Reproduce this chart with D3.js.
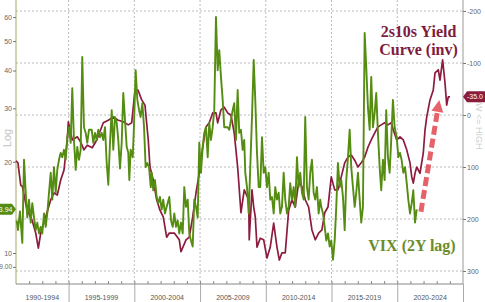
<!DOCTYPE html>
<html>
<head>
<meta charset="utf-8">
<script src="https://cdn.jsdelivr.net/npm/d3@7"></script>
<style>
  body { margin: 0; background: #fff; }
  svg { display: block; font-family: "Liberation Sans", Arial, sans-serif; }
</style>
</head>
<body>
<svg id="chart" width="485" height="302"></svg>
<script>
// bottom axis bands
const periodLabels = ["1990-1994", "1995-1999", "2000-2004", "2005-2009", "2010-2014", "2015-2019", "2020-2024"];
const periodStarts = [1990, 1995, 2000, 2005, 2010, 2015, 2020];
const leftTicks = [9, 10, 20, 30, 40, 50, 60, 70];
const rightTicks = [-200, -100, 0, 100, 200, 300];

// VIX, shifted 2 years (left axis, log)
const vixDates = [
  1991.05, 1991.15, 1991.30, 1991.48, 1991.61, 1991.74, 1991.86, 1991.99, 1992.12, 1992.24,
  1992.37, 1992.50, 1992.62, 1992.75, 1992.88, 1993.00, 1993.13, 1993.26, 1993.38, 1993.51,
  1993.64, 1993.76, 1993.89, 1994.02, 1994.14, 1994.27, 1994.40, 1994.52, 1994.65, 1994.78,
  1994.90, 1995.03, 1995.16, 1995.28, 1995.41, 1995.54, 1995.66, 1995.79, 1995.92, 1996.04,
  1996.17, 1996.30, 1996.42, 1996.55, 1996.76, 1996.88, 1997.01, 1997.14, 1997.26, 1997.39,
  1997.52, 1997.64, 1997.77, 1997.90, 1998.02, 1998.15, 1998.28, 1998.40, 1998.53, 1998.66,
  1998.78, 1998.91, 1999.04, 1999.16, 1999.29, 1999.42, 1999.54, 1999.62, 1999.72, 1999.88,
  1999.97, 2000.10, 2000.23, 2000.36, 2000.48, 2000.61, 2000.74, 2000.86, 2000.99, 2001.12,
  2001.25, 2001.32, 2001.44, 2001.57, 2001.70, 2001.82, 2001.95, 2002.08, 2002.20, 2002.33,
  2002.46, 2002.66, 2002.79, 2002.92, 2003.04, 2003.17, 2003.30, 2003.42, 2003.55, 2003.68,
  2003.80, 2003.93, 2004.06, 2004.18, 2004.31, 2004.44, 2004.56, 2004.69, 2004.82, 2004.94,
  2005.07, 2005.20, 2005.32, 2005.45, 2005.58, 2005.70, 2005.83, 2005.96, 2006.08, 2006.21,
  2006.34, 2006.46, 2006.59, 2006.72, 2006.84, 2006.97, 2007.10, 2007.22, 2007.35, 2007.48,
  2007.60, 2007.73, 2007.86, 2007.98, 2008.11, 2008.24, 2008.36, 2008.44, 2008.57, 2008.70,
  2008.82, 2008.95, 2009.08, 2009.20, 2009.33, 2009.46, 2009.58, 2009.71, 2009.84, 2009.96,
  2010.09, 2010.22, 2010.34, 2010.47, 2010.60, 2010.72, 2010.85, 2010.98, 2011.10, 2011.23,
  2011.36, 2011.48, 2011.61, 2011.74, 2011.86, 2011.99, 2012.12, 2012.24, 2012.37, 2012.50,
  2012.62, 2012.75, 2012.88, 2013.00, 2013.13, 2013.26, 2013.38, 2013.51, 2013.64, 2013.76,
  2013.89, 2014.02, 2014.14, 2014.22, 2014.35, 2014.48, 2014.60, 2014.73, 2014.86, 2014.98,
  2015.11, 2015.24, 2015.36, 2015.49, 2015.62, 2015.74, 2015.87, 2016.00, 2016.12, 2016.25,
  2016.38, 2016.50, 2016.63, 2016.76, 2016.88, 2017.01, 2017.14, 2017.26, 2017.39, 2017.52,
  2017.64, 2017.77, 2017.90, 2018.02, 2018.15, 2018.28, 2018.40, 2018.53, 2018.66, 2018.78,
  2018.91, 2019.04, 2019.16, 2019.29, 2019.42, 2019.54, 2019.67, 2019.80, 2019.96, 2020.08,
  2020.21, 2020.33, 2020.46, 2020.59, 2020.72, 2020.84, 2020.97, 2021.10, 2021.22, 2021.35,
  2021.48
];
const vixLevels = [
  12.8, 11.9, 13.7, 10.8, 20.3, 15.8, 13.1, 15.0, 12.6, 14.6,
  13.1, 11.9, 12.6, 11.6, 12.2, 11.6, 13.5, 12.2, 13.5, 15.8,
  18.4, 15.0, 19.2, 15.8, 18.8, 20.3, 21.4, 20.7, 21.9, 20.3,
  24.1, 26.0, 23.1, 35.0, 23.6, 18.8, 22.4, 20.3, 21.9, 44.3,
  26.0, 24.9, 23.1, 25.5, 25.5, 23.1, 24.9, 23.6, 25.5, 24.1,
  24.9, 23.6, 26.0, 19.8, 16.8, 23.1, 29.6, 21.9, 28.1, 26.9,
  23.6, 19.0, 23.1, 33.7, 27.5, 22.4, 21.4, 17.4, 21.9, 20.7,
  26.0, 40.1, 32.0, 29.6, 28.1, 31.2, 26.0, 19.2, 19.8, 19.2,
  16.5, 18.4, 16.1, 17.4, 15.3, 14.6, 15.3, 13.9, 15.0, 13.5,
  14.2, 15.3, 12.8, 12.2, 13.5, 12.2, 12.8, 11.6, 12.6, 11.6,
  16.5, 14.2, 15.0, 11.6, 11.0, 10.5, 15.0, 14.2, 13.1, 23.1,
  18.4, 22.4, 24.9, 26.0, 20.7, 26.9, 23.6, 26.0, 29.6, 60.1,
  40.1, 46.7, 38.1, 32.0, 26.0, 26.0, 26.0, 25.5, 27.5, 29.6,
  31.2, 23.6, 34.5, 24.9, 25.5, 21.9, 23.6, 18.4, 16.5, 13.5,
  19.2, 28.1, 43.3, 32.0, 21.4, 16.5, 16.5, 24.1, 18.4, 19.2,
  16.5, 18.4, 15.0, 15.3, 13.5, 16.5, 15.0, 15.8, 13.5, 14.2,
  18.4, 15.0, 13.5, 14.2, 17.0, 15.0, 16.5, 14.2, 20.7, 16.5,
  18.4, 15.8, 15.0, 28.1, 16.5, 15.0, 18.4, 20.3, 15.8, 15.0,
  16.5, 13.5, 15.0, 14.2, 13.5, 12.2, 11.0, 11.6, 10.5, 11.0,
  9.5, 11.0, 14.2, 19.8, 16.5, 17.4, 15.3, 11.9, 17.4, 20.7,
  25.5, 19.2, 16.5, 14.2, 15.8, 18.4, 15.0, 12.6, 14.2, 53.2,
  41.1, 30.3, 25.5, 38.1, 26.0, 29.0, 33.7, 24.9, 19.2, 16.1,
  20.3, 17.4, 29.6, 20.7, 18.4, 23.6, 32.0, 26.0, 24.1, 20.7,
  21.4, 20.3, 18.4, 19.2, 17.0, 15.0, 13.5, 14.6, 16.1, 12.6,
  13.94
];

// 2s10s yield curve in bp (right axis, inverted)
const curveDates = [
  1991.00, 1991.15, 1991.36, 1991.48, 1991.84, 1992.22, 1992.50, 1992.70, 1992.88, 1993.26,
  1993.64, 1993.89, 1994.14, 1994.40, 1994.65, 1994.90, 1994.98, 1995.28, 1995.66, 1995.92,
  1996.17, 1996.42, 1996.80, 1997.14, 1997.64, 1998.02, 1998.40, 1998.78, 1999.16, 1999.54,
  1999.80, 2000.05, 2000.28, 2000.56, 2000.81, 2001.06, 2001.19, 2001.44, 2001.70, 2001.95,
  2002.20, 2002.46, 2002.66, 2003.04, 2003.42, 2003.55, 2003.93, 2004.18, 2004.44, 2004.69,
  2004.94, 2005.20, 2005.45, 2005.70, 2005.96, 2006.21, 2006.34, 2006.59, 2006.84, 2007.10,
  2007.35, 2007.60, 2007.86, 2008.11, 2008.36, 2008.70, 2008.74, 2008.95, 2009.08, 2009.20,
  2009.33, 2009.58, 2009.84, 2010.09, 2010.34, 2010.60, 2010.85, 2011.03, 2011.23, 2011.48,
  2011.74, 2011.99, 2012.24, 2012.50, 2012.75, 2013.00, 2013.26, 2013.51, 2013.76, 2014.02,
  2014.27, 2014.48, 2014.73, 2014.98, 2015.24, 2015.49, 2015.74, 2016.00, 2016.25, 2016.50,
  2016.76, 2017.01, 2017.26, 2017.52, 2017.77, 2018.02, 2018.28, 2018.53, 2018.78, 2019.04,
  2019.29, 2019.54, 2019.70, 2019.96, 2020.21, 2020.46, 2020.72, 2020.97, 2021.10, 2021.22,
  2021.35, 2021.48, 2021.73, 2021.98, 2022.11, 2022.24, 2022.49, 2022.74, 2022.87, 2023.12,
  2023.25, 2023.45, 2023.63, 2023.76, 2023.88, 2024.01
];
const curveBp = [
  88, 92, 135, 137, 183, 202, 227, 256, 227, 196,
  163, 150, 154, 125, 106, 48, 13, 48, 42, 52,
  67, 58, 63, 48, 15, 10, 4, 10, 13, 19,
  15, -48, -48, -29, -19, 48, 100, 125, 163, 183,
  196, 235, 227, 227, 240, 263, 240, 235, 196, 150,
  112, 62, 23, 15, -4, -4, 15, -10, -15, -4,
  0, 35, 100, 188, 144, 163, 240, 144, 177, 196,
  254, 237, 240, 275, 254, 208, 254, 279, 265, 265,
  183, 163, 177, 129, 138, 163, 177, 221, 240, 227,
  221, 188, 177, 119, 144, 144, 119, 92, 81, 77,
  87, 100, 92, 81, 62, 48, 35, 23, 19, 15,
  19, 15, 29, 48, 42, 48, 67, 92, 119, 131,
  112, 100, 112, 73, 29, 4, -29, -48, -81, -87,
  -67, -106, -62, -19, -35, -35
];
const vixLast = 13.94;
const curveLast = -35.0;

const green = "#558c12", red = "#8c1c3e";
const svg = d3.select("#chart");
const left = 16, right = 463, bottom = 284;

const x = d3.scaleLinear().domain([1991, 2025]).range([left, right]);
const yL = d3.scaleLog().domain([10, 40]).range([253, 70.5]);
const yR = d3.scaleLinear().domain([-200, 300]).range([11, 271]);

// grid
svg.append("g").selectAll("line").data(rightTicks).join("line")
  .attr("x1", left).attr("x2", right)
  .attr("y1", d => yR(d)).attr("y2", d => yR(d))
  .attr("stroke", "#bcbcbc").attr("stroke-dasharray", "2,2");
svg.append("g").selectAll("line").data(periodStarts.slice(1)).join("line")
  .attr("x1", d => x(d)).attr("x2", d => x(d))
  .attr("y1", 0).attr("y2", bottom)
  .attr("stroke", "#bcbcbc").attr("stroke-dasharray", "2,2");

// left axis (log)
const gL = svg.append("g").attr("transform", `translate(${left},0)`)
  .call(d3.axisLeft(yL).tickValues(leftTicks).tickSize(3)
    .tickFormat(d => d === 9 ? "9.00" : d));
gL.select(".domain").attr("d", `M0,0V${bottom}`).attr("stroke", "#a3a867");
gL.selectAll(".tick line").attr("stroke", "#777");
gL.selectAll(".tick text").attr("x", -4).attr("fill", "#666")
  .style("font-size", d => d === 9 ? "6.5px" : "7px");

// right axis
const gR = svg.append("g").attr("transform", `translate(${right},0)`)
  .call(d3.axisRight(yR).tickValues(rightTicks).tickSize(3).tickFormat(d => String(d)));
gR.select(".domain").attr("d", `M0,0V${bottom}`).attr("stroke", "#999");
gR.selectAll(".tick line").attr("stroke", "#777");
gR.selectAll(".tick text").attr("x", 4).attr("fill", "#666").style("font-size", "7px");

// bottom axis: yearly minor ticks + band dividers
const gB = svg.append("g").attr("transform", `translate(0,${bottom})`)
  .call(d3.axisBottom(x).tickValues(d3.range(1992, 2025)).tickSize(-3).tickFormat(""));
gB.select(".domain").attr("d", `M${left},0H${right}`).attr("stroke", "#888");
gB.selectAll(".tick line").attr("stroke", "#888");
const gB2 = svg.append("g").attr("transform", `translate(0,${bottom})`)
  .call(d3.axisBottom(x).tickValues(periodStarts.slice(1).concat([2025])).tickSize(20).tickFormat(""));
gB2.select(".domain").remove();
gB2.selectAll(".tick line").attr("stroke", "#aaa");
svg.append("g").selectAll("text").data(periodStarts).join("text")
  .attr("x", d => (x(Math.max(d, 1991)) + x(d + 5)) / 2)
  .attr("y", 300)
  .attr("text-anchor", "middle").attr("fill", "#555").style("font-size", "7px")
  .text((d, i) => periodLabels[i]);

// axis titles
svg.append("text").attr("transform", `translate(11,${(yL(20) + yL(30)) / 2 + 3}) rotate(-90)`)
  .attr("text-anchor", "middle").attr("fill", "#c4c4c4").style("font-size", "11px").text("Log");
svg.append("text").attr("transform", `translate(476,${yR(10)}) rotate(90)`)
  .attr("text-anchor", "middle").attr("fill", "#cfcfcf").style("font-size", "9px").text("LOW <= HIGH");

// series
const curveLine = d3.line().x(d => x(d[0])).y(d => yR(d[1]));
const vixLine = d3.line().x(d => x(d[0])).y(d => yL(d[1]));
svg.append("path").datum(d3.zip(curveDates, curveBp))
  .attr("d", curveLine).attr("fill", "none").attr("stroke", red)
  .attr("stroke-width", 1.7).attr("stroke-linejoin", "round");
svg.append("path").datum(d3.zip(vixDates, vixLevels))
  .attr("d", vixLine).attr("fill", "none").attr("stroke", green)
  .attr("stroke-width", 1.9).attr("stroke-linejoin", "round");

// arrow annotation
const ax0 = x(2021.8), ay0 = yR(186), ax1 = x(2023.2), ay1 = yR(-29);
const ang = Math.atan2(ay1 - ay0, ax1 - ax0);
const headLen = 12, headW = 6;
const bx = ax1 - headLen * Math.cos(ang), by = ay1 - headLen * Math.sin(ang);
svg.append("line").attr("x1", ax0).attr("y1", ay0).attr("x2", bx).attr("y2", by)
  .attr("stroke", "#e4525c").attr("stroke-width", 5).attr("stroke-dasharray", "9,4")
  .attr("opacity", 0.9);
svg.append("path")
  .attr("d", `M${ax1},${ay1}L${bx + headW * Math.sin(ang)},${by - headW * Math.cos(ang)}L${bx - headW * Math.sin(ang)},${by + headW * Math.cos(ang)}Z`)
  .attr("fill", "#e4525c").attr("opacity", 0.9);

// text annotations
const serif = '"Liberation Serif", "Times New Roman", serif';
svg.append("text").attr("x", 418.5).attr("y", 37).attr("text-anchor", "middle")
  .attr("fill", "#7d1c3d").style("font-family", serif).style("font-weight", "bold")
  .style("font-size", "16px").text("2s10s Yield");
svg.append("text").attr("x", 418.5).attr("y", 54.5).attr("text-anchor", "middle")
  .attr("fill", "#7d1c3d").style("font-family", serif).style("font-weight", "bold")
  .style("font-size", "16px").text("Curve (inv)");
svg.append("text").attr("x", 412).attr("y", 250.5).attr("text-anchor", "middle")
  .attr("fill", "#6b8c2a").style("font-family", serif).style("font-weight", "bold")
  .style("font-size", "16px").text("VIX (2Y lag)");

// last value badges
const lb = yL(vixLast);
svg.append("path").attr("d", `M-2,${lb - 5.5}H12L16,${lb}L12,${lb + 5.5}H-2Z`).attr("fill", green);
svg.append("text").attr("x", 12.5).attr("y", lb + 2.5).attr("text-anchor", "end")
  .attr("fill", "#fff").style("font-size", "7px").text(vixLast.toFixed(2));
const rb = yR(curveLast);
svg.append("path").attr("d", `M${right},${rb}L${right + 4},${rb - 5.5}H487V${rb + 5.5}H${right + 4}Z`).attr("fill", red);
svg.append("text").attr("x", right + 4).attr("y", rb + 2.5)
  .attr("fill", "#fff").style("font-size", "7px").text(curveLast.toFixed(1));
</script>
</body>
</html>
